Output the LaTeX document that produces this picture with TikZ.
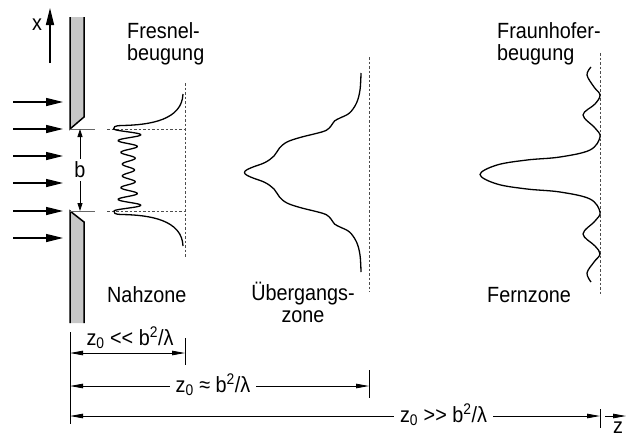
\documentclass[tikz,border=0pt]{standalone}
\usepackage{fontspec}
\setmainfont{Liberation Sans}[FakeStretch=0.9]
\usetikzlibrary{arrows.meta, positioning, calc}

\begin{document}
\begin{tikzpicture}[x=1pt, y=-1pt,
  txt/.style={font=\fontsize{22}{22}\selectfont, inner sep=0pt},
  beam/.style={-{Triangle[length=17pt, width=8pt]}, line width=1.3pt},
  dimline/.style={{Triangle[length=13pt, width=4.5pt]}-{Triangle[length=13pt, width=4.5pt]}, line width=0.8pt},
  tick/.style={line width=0.8pt},
  guide/.style={dash pattern=on 2.5pt off 2pt, line width=0.6pt, black!70},
  profile/.style={line width=1.3pt, line join=round},
  wall/.style={line width=1.5pt},
  wallfill/.style={fill=black!22}]

  \useasboundingbox (0,0) rectangle (626,437);

  % Screen with slit
  \coordinate (slitT) at (70,129);
  \coordinate (slitB) at (70,211);
  \fill[wallfill] (70,17) -- (84,17) -- (84,117) -- (slitT) -- cycle;
  \draw[wall] (70,17) -- (slitT) -- (84,117) -- (84,17);
  \fill[wallfill] (slitB) -- (84,222) -- (84,323) -- (70,323) -- cycle;
  \draw[wall] (70,323) -- (slitB) -- (84,222) -- (84,323);

  % x axis
  \coordinate (xfoot) at (50,63);
  \coordinate (xtip) at (50,8);
  \draw[beam] (xfoot) -- (xtip);
  \node[txt] (xlab) at (37,25) {x};

  % Incident plane wave
  \foreach \y in {102,129,156,183,211,238}
    \draw[beam] (13,\y) -- (63,\y);

  % Slit width b
  \draw[tick, black!60] (slitT) -- ++(25,0);
  \draw[tick, black!60] (slitB) -- ++(25,0);
  \draw[{Triangle[length=8pt, width=5pt]}-{Triangle[length=8pt, width=5pt]}, line width=0.8pt]
    ($(slitT)+(10,0)$) -- ($(slitB)+(10,0)$) node[txt, midway, fill=white, inner ysep=3pt] (b) {b};

  % Near zone (Fresnel)
  \draw[guide] (107,129) -- (185,129);
  \draw[guide] (107,211) -- (185,211);
  \draw[guide] (185,83) -- (185,258);
  \draw[profile] (183,94) .. controls (182,120) and (150,125) .. (122,125.5)
    .. controls (114,125.7) and (113.5,127) .. (113.5,129)
    -- plot[domain=0:1, samples=300] ({128.5-(6+8.5*(2*\x-1)^2)*cos(7*360*\x)}, {129+82*\x})
    .. controls (113.5,213) and (114,214.3) .. (122,214.5)
    .. controls (150,215) and (182,220) .. (183,246);

  % Transition zone
  \draw[guide] (369,57) -- (369,292);
  \draw[profile] plot[smooth, tension=0.6] coordinates {
    (361,73) (360,90) (356.5,103) (349.5,113) (340,118) (334.5,121) (331,126)
    (326,130.5) (316,133.5) (300,137.5) (287,142) (279.5,148) (274,156)
    (265,162.5) (253,167) (246.5,170) (244.5,172.5) (246.5,175) (253,178)
    (265,182.5) (274,189) (279.5,197) (287,203) (300,207.5) (316,211.5)
    (326,214.5) (331,219) (334.5,224) (340,227) (349.5,232) (356.5,242)
    (360,255) (361,272)};

  % Far zone (Fraunhofer)
  \draw[guide] (600,53) -- (600,295);
  \draw[profile] plot[smooth, tension=0.6] coordinates {
    (591,67) (587,75) (594,87) (600,95) (595,104) (583,115) (595,128)
    (600,137) (590,150) (560,157) (527,160) (497,165) (480,174.5)
    (497,184) (527,189) (560,192) (590,199) (600,212) (595,221)
    (583,234) (595,246) (600,254) (594,262) (587,273) (591,282)};

  % Zone labels
  \node[txt, anchor=north west, align=left] (fresnel) at (127,22) {Fresnel-\\beugung};
  \node[txt, anchor=north west, align=left] (fraunhofer) at (497,22) {Fraunhofer-\\beugung};
  \node[txt, anchor=base west] (near) at (107,302) {Nahzone};
  \node[txt, anchor=north, align=center] (trans) at (303,282) {Übergangs-\\zone};
  \node[txt, anchor=base west] (far) at (487,302) {Fernzone};

  % Distance ranges
  \coordinate (z0top) at (70,332);
  \coordinate (z0bot) at (70,424);
  \draw[tick] (z0top) -- (z0bot);
  \coordinate (d1) at (70,353);
  \coordinate (e1) at (185,353);
  \coordinate (d2) at (70,386);
  \coordinate (e2) at (369,386);
  \coordinate (d3) at (70,416);
  \coordinate (e3) at (600,416);
  \coordinate (zstart) at (605,416);
  \coordinate (zend) at (626,416);
  \draw[tick] ($(e1)+(0,-15)$) -- ($(e1)+(0,12)$);
  \draw[tick] ($(e2)+(0,-16)$) -- ($(e2)+(0,12)$);
  \draw[tick] ($(e3)+(0,-7)$) -- ($(e3)+(0,12)$);
  \draw[dimline] (d1) -- (e1);
  \draw[dimline] (d2) -- (e2);
  \draw[dimline] (d3) -- (e3);
  \node[txt, anchor=base] (near range) at (130,345) {z\textsubscript{0} <{}< b\textsuperscript{2}/λ};
  \node[txt, anchor=base, fill=white, inner xsep=6pt, inner ysep=2pt] (trans range) at (213,392) {z\textsubscript{0} ≈ b\textsuperscript{2}/λ};
  \node[txt, anchor=base, fill=white, inner xsep=6pt, inner ysep=2pt] (far range) at (443.5,422) {z\textsubscript{0} >{}> b\textsuperscript{2}/λ};
  \draw[-{Triangle[length=13pt, width=4.5pt]}, line width=0.8pt] (zstart) -- (zend);
  \node[txt, anchor=base] (zlab) at (618,433) {z};

\end{tikzpicture}
\end{document}
